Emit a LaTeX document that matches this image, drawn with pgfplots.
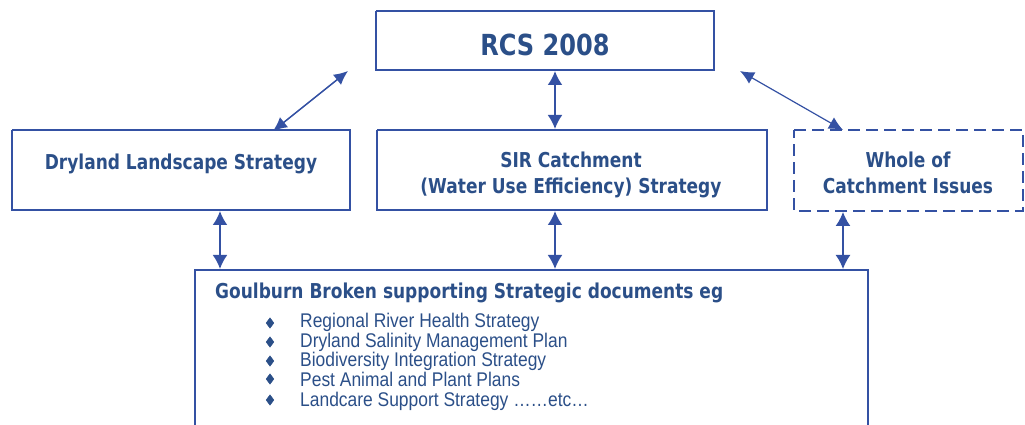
\documentclass[border=0pt]{standalone}
\usepackage{pgfplots}
\pgfplotsset{compat=1.18}
\usepackage{fontspec}
\setmainfont{DejaVu Sans}
\newfontfamily\tah[FakeStretch=0.83]{DejaVu Sans}
\newfontfamily\arialn[FakeStretch=0.88]{Liberation Sans}
\usetikzlibrary{arrows.meta}
\definecolor{ln}{HTML}{3451A3}
\definecolor{tx}{HTML}{2B4F88}
\begin{document}
\begin{tikzpicture}
\begin{axis}[scale only axis, width=1025pt, height=425pt, anchor=south west, at={(0,0)},
  xmin=0, xmax=1025, ymin=0, ymax=425, hide axis, clip=false]
% boxes
\addplot[ln, line width=2pt, line join=miter] coordinates {(376,414)(714,414)(714,355)(376,355)(376,414)};
\addplot[ln, line width=2pt, line join=miter] coordinates {(12,295)(350,295)(350,215)(12,215)(12,295)};
\addplot[ln, line width=2pt, line join=miter] coordinates {(377,295)(767,295)(767,215)(377,215)(377,295)};
\addplot[ln, line width=2pt, line join=miter, dash pattern=on 12pt off 6pt] coordinates {(794,295)(1023,295)(1023,214)(794,214)(794,295)};
\addplot[ln, line width=2pt, line join=miter] coordinates {(195,0)(195,155)(868,155)(868,0)};
% arrows
\addplot[ln, line width=1.5pt, {Latex[length=14pt,width=13pt]}-{Latex[length=14pt,width=13pt]}] coordinates {(348,354)(273,294)};
\addplot[ln, line width=2pt, {Latex[length=14pt,width=15pt]}-{Latex[length=14pt,width=15pt]}] coordinates {(555,354)(555,296)};
\addplot[ln, line width=1.2pt, {Latex[length=14pt,width=13pt]}-{Latex[length=14pt,width=13pt]}] coordinates {(740,354)(843,295)};
\addplot[ln, line width=2pt, {Latex[length=14pt,width=15pt]}-{Latex[length=14pt,width=15pt]}] coordinates {(220,214)(220,156)};
\addplot[ln, line width=2pt, {Latex[length=14pt,width=15pt]}-{Latex[length=14pt,width=15pt]}] coordinates {(555,214)(555,156)};
\addplot[ln, line width=1.5pt, {Latex[length=14pt,width=15pt]}-{Latex[length=14pt,width=15pt]}] coordinates {(843,213)(843,156)};
% bullets
\addplot[only marks, mark=diamond*, mark size=5.2pt, color=tx] coordinates {(270,102)(270,83)(270,64)(270,46)(270,25)};
% text
\node[anchor=base, text=tx, font=\tah\bfseries\fontsize{29}{30}\selectfont] at (axis cs:545,369) {RCS 2008};
\node[anchor=base, text=tx, font=\tah\bfseries\fontsize{20.5}{22}\selectfont] at (axis cs:181,255) {Dryland Landscape Strategy};
\node[anchor=base, text=tx, font=\tah\bfseries\fontsize{20.5}{22}\selectfont] at (axis cs:571,257) {SIR Catchment};
\node[anchor=base, text=tx, font=\tah\bfseries\fontsize{20.5}{22}\selectfont] at (axis cs:571,231) {(Water Use Efficiency) Strategy};
\node[anchor=base, text=tx, font=\tah\bfseries\fontsize{20.5}{22}\selectfont] at (axis cs:908,257) {Whole of};
\node[anchor=base, text=tx, font=\tah\bfseries\fontsize{20.5}{22}\selectfont] at (axis cs:908,231) {Catchment Issues};
\node[anchor=base west, inner sep=0pt, text=tx, font=\tah\bfseries\fontsize{20.5}{22}\selectfont] at (axis cs:215,126) {Goulburn Broken supporting Strategic documents eg};
\node[anchor=base west, inner sep=0pt, text=tx, font=\arialn\fontsize{19.8}{20}\selectfont] at (axis cs:300,97) {Regional River Health Strategy};
\node[anchor=base west, inner sep=0pt, text=tx, font=\arialn\fontsize{19.8}{20}\selectfont] at (axis cs:300,77) {Dryland Salinity Management Plan};
\node[anchor=base west, inner sep=0pt, text=tx, font=\arialn\fontsize{19.8}{20}\selectfont] at (axis cs:300,58) {Biodiversity Integration Strategy};
\node[anchor=base west, inner sep=0pt, text=tx, font=\arialn\fontsize{19.8}{20}\selectfont] at (axis cs:300,38) {Pest Animal and Plant Plans};
\node[anchor=base west, inner sep=0pt, text=tx, font=\arialn\fontsize{19.8}{20}\selectfont] at (axis cs:300,18) {Landcare Support Strategy ……etc…};
\end{axis}
\pgfresetboundingbox
\useasboundingbox (0,0) rectangle (1025pt,425pt);
\end{tikzpicture}
\end{document}
